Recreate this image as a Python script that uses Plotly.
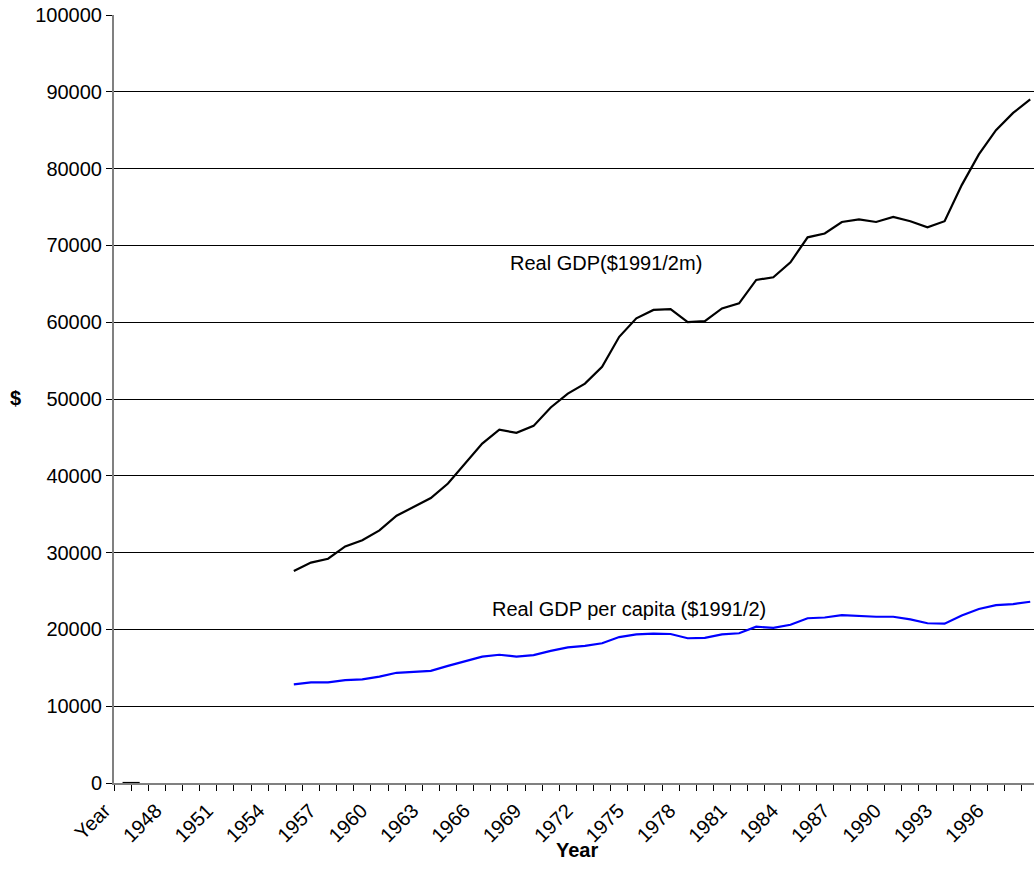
import plotly.graph_objects as go

categories = ["Year"] + [str(y) for y in range(1946, 1999)]

# Real GDP ($1991/2m); None = no data
real_gdp = [0, 0] + [None] * 8 + [
    27600, 28700, 29200, 30800, 31600, 32900, 34800, 36000, 37100, 39000,
    41600, 44200, 46000, 45600, 46500, 48900, 50700, 52000, 54200, 58100,
    60500, 61600, 61700, 60000, 60150, 61800, 62450, 65500, 65850, 67800,
    71050, 71550, 73050, 73400, 73050, 73700, 73150, 72350, 73150, 77850,
    81850, 85000, 87250, 89000]

# Real GDP per capita ($1991/2)
real_gdp_pc = [None] * 10 + [
    12850, 13100, 13100, 13400, 13500, 13850, 14350, 14450, 14600, 15250,
    15850, 16450, 16700, 16450, 16650, 17200, 17650, 17850, 18200, 19000,
    19350, 19450, 19400, 18850, 18900, 19350, 19500, 20350, 20200, 20600,
    21450, 21550, 21850, 21750, 21650, 21650, 21300, 20800, 20750, 21800,
    22650, 23150, 23300, 23600]

tick_labels = ["Year"] + [str(y) for y in range(1948, 1997, 3)]

idx = list(range(len(categories)))
tickvals = [categories.index(t) for t in tick_labels]

FONT = "Liberation Sans, Arial, sans-serif"

# body margin is removed (post_script), so layout is in screen pixels
W, H = 1034, 890
L, R, T, B = 114, 0, 15, H - 783
pw, ph = W - L - R, H - T - B


def px_to_paper(sx, sy):
    return (sx - L) / pw, (H - B - sy) / ph


fig = go.Figure()
fig.add_trace(go.Scatter(x=idx, y=real_gdp_pc, mode="lines",
                         line=dict(color="#0000FF", width=2.2),
                         connectgaps=False, showlegend=False))
fig.add_trace(go.Scatter(x=idx, y=real_gdp, mode="lines",
                         line=dict(color="#000000", width=2.2),
                         connectgaps=False, showlegend=False))

fig.add_annotation(x=22.5, y=67700, xref="x", yref="y", text="Real GDP($1991/2m)",
                   showarrow=False, xanchor="left", yanchor="middle",
                   font=dict(family=FONT, size=20, color="#000"))
fig.add_annotation(x=21.45, y=22700, xref="x", yref="y", text="Real GDP per capita ($1991/2)",
                   showarrow=False, xanchor="left", yanchor="middle",
                   font=dict(family=FONT, size=20, color="#000"))
# axis titles
ax, ay = px_to_paper(15, 398)
fig.add_annotation(x=ax, y=ay, xref="paper", yref="paper", text="<b>$</b>",
                   showarrow=False, xanchor="center", yanchor="middle",
                   font=dict(family=FONT, size=20, color="#000"))
ax, ay = px_to_paper(577, 850)
fig.add_annotation(x=ax, y=ay, xref="paper", yref="paper", text="<b>Year</b>",
                   showarrow=False, xanchor="center", yanchor="middle",
                   font=dict(family=FONT, size=20, color="#000"))

fig.update_layout(
    width=W, height=H,
    margin=dict(l=L, r=R, t=T, b=B, autoexpand=False),
    paper_bgcolor="white", plot_bgcolor="white",
    font=dict(family=FONT, size=20, color="#000"),
    xaxis=dict(
        range=[-0.5, 53.22], automargin=False,
        tickmode="array", tickvals=tickvals, ticktext=tick_labels,
        tickangle=-45, ticks="", showgrid=False, zeroline=False,
        showline=True, linecolor="#808080", linewidth=2,
        ticklabelstandoff=6, ticklabelshift=-18,
        minor=dict(tickmode="array", tickvals=[i - 0.5 for i in range(len(categories) + 1)],
                   ticks="outside", ticklen=6, tickcolor="#000", tickwidth=1, showgrid=False),
        tickfont=dict(size=20),
    ),
    yaxis=dict(
        range=[0, 100000], tickmode="linear", tick0=0, dtick=10000,
        tickformat="d", automargin=False, ticklabeloverflow="allow",
        showgrid=True, gridcolor="#000", gridwidth=1, zeroline=False,
        showline=True, linecolor="#808080", linewidth=2,
        ticks="outside", ticklen=6, tickcolor="#000",
        tickfont=dict(size=20),
    ),
)

fig.write_html("out.html", config={"displayModeBar": False},
               post_script="document.body.style.margin='0px';document.body.style.overflow='hidden';")
